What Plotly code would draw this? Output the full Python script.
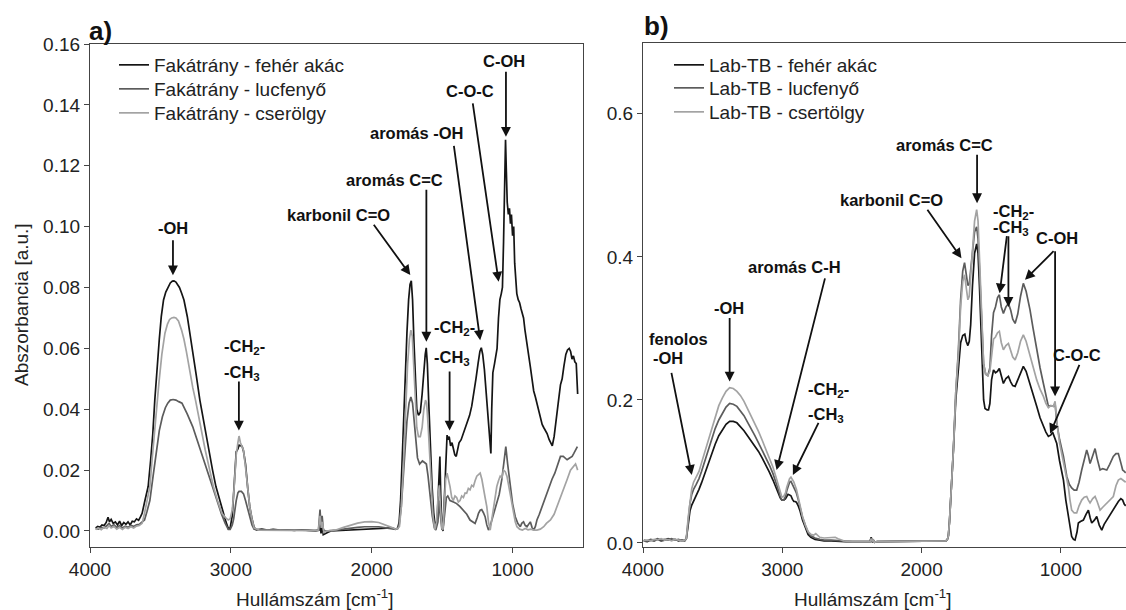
import plotly.graph_objects as go

# ---------------- data (wavenumber cm-1, absorbance) ----------------
a_akac = [(3960,0.0010),(3945,0.0015),(3930,0.0012),(3915,0.0020),(3900,0.0018),(3885,0.0028),(3872,0.0045),(3862,0.0030),(3850,0.0038),(3835,0.0025),(3820,0.0030),(3805,0.0020),(3790,0.0032),(3775,0.0018),(3760,0.0028),(3745,0.0022),(3730,0.0030),(3715,0.0020),(3700,0.0032),(3685,0.0030),(3670,0.0040),(3655,0.0035),(3640,0.0048),(3630,0.0058),(3610,0.0100),(3587,0.0146),(3570,0.0230),(3554,0.0320),(3540,0.0430),(3524,0.0540),(3508,0.0630),(3494,0.0704),(3478,0.0759),(3462,0.0785),(3447,0.0800),(3430,0.0815),(3415,0.0821),(3404,0.0822),(3390,0.0818),(3378,0.0808),(3365,0.0800),(3350,0.0782),(3333,0.0759),(3309,0.0704),(3290,0.0650),(3271,0.0590),(3245,0.0510),(3220,0.0430),(3190,0.0350),(3157,0.0266),(3130,0.0200),(3106,0.0146),(3080,0.0100),(3056,0.0060),(3035,0.0030),(3018,0.0008),(3005,0.0010),(2990,0.0050),(2980,0.0120),(2970,0.0200),(2962,0.0260),(2950,0.0270),(2942,0.0282),(2930,0.0280),(2920,0.0278),(2910,0.0262),(2896,0.0220),(2880,0.0140),(2866,0.0080),(2850,0.0040),(2835,0.0012),(2820,0.0004),(2780,0.0006),(2740,0.0003),(2700,0.0005),(2650,0.0003),(2600,0.0004),(2550,0.0002),(2500,0.0004),(2450,0.0002),(2400,0.0000),(2375,0.0002),(2366,0.0030),(2360,-0.0008),(2352,0.0018),(2344,-0.0012),(2330,-0.0008),(2310,-0.0004),(2290,0.0000),(2250,0.0001),(2200,0.0002),(2150,0.0004),(2100,0.0005),(2050,0.0007),(2000,0.0008),(1950,0.0010),(1900,0.0011),(1860,0.0010),(1830,0.0006),(1815,0.0010),(1805,0.0030),(1795,0.0100),(1780,0.0280),(1765,0.0480),(1750,0.0650),(1738,0.0760),(1728,0.0810),(1719,0.0822),(1710,0.0760),(1700,0.0620),(1690,0.0480),(1680,0.0400),(1668,0.0380),(1655,0.0390),(1642,0.0450),(1630,0.0530),(1620,0.0580),(1613,0.0602),(1605,0.0550),(1595,0.0420),(1585,0.0280),(1572,0.0150),(1560,0.0060),(1548,0.0010),(1535,0.0040),(1525,0.0150),(1516,0.0245),(1510,0.0120),(1502,0.0020),(1494,0.0000),(1485,0.0100),(1475,0.0250),(1465,0.0315),(1458,0.0300),(1450,0.0310),(1440,0.0280),(1430,0.0290),(1420,0.0270),(1410,0.0250),(1400,0.0245),(1390,0.0270),(1380,0.0290),(1365,0.0300),(1350,0.0320),(1335,0.0340),(1320,0.0360),(1305,0.0380),(1290,0.0410),(1275,0.0450),(1260,0.0500),(1245,0.0550),(1232,0.0590),(1222,0.0602),(1212,0.0580),(1200,0.0530),(1190,0.0470),(1180,0.0400),(1170,0.0330),(1160,0.0270),(1154,0.0255),(1148,0.0400),(1140,0.0520),(1128,0.0550),(1118,0.0580),(1110,0.0600),(1100,0.0700),(1090,0.0760),(1080,0.0780),(1072,0.0800),(1064,0.0950),(1057,0.1150),(1050,0.1285),(1044,0.1180),(1038,0.1080),(1030,0.1040),(1022,0.1060),(1015,0.1010),(1008,0.1040),(1000,0.0970),(992,0.1000),(985,0.0880),(978,0.0820),(970,0.0780),(960,0.0760),(950,0.0750),(940,0.0730),(930,0.0710),(922,0.0700),(912,0.0660),(905,0.0640),(898,0.0620),(886,0.0580),(874,0.0540),(862,0.0500),(850,0.0460),(838,0.0440),(827,0.0420),(815,0.0390),(803,0.0370),(790,0.0350),(779,0.0340),(767,0.0330),(755,0.0320),(740,0.0300),(728,0.0290),(718,0.0280),(705,0.0310),(690,0.0360),(676,0.0420),(660,0.0480),(648,0.0500),(636,0.0540),(622,0.0580),(610,0.0595),(598,0.0600),(588,0.0590),(578,0.0565),(568,0.0575),(558,0.0556),(548,0.0550),(543,0.0500),(538,0.0450)]

a_lucf = [(3960,0.0008),(3940,0.0006),(3920,0.0012),(3900,0.0010),(3880,0.0018),(3865,0.0025),(3850,0.0015),(3830,0.0020),(3810,0.0012),(3790,0.0018),(3770,0.0010),(3750,0.0016),(3730,0.0012),(3710,0.0018),(3690,0.0015),(3670,0.0020),(3650,0.0022),(3630,0.0030),(3613,0.0036),(3595,0.0065),(3575,0.0100),(3552,0.0180),(3529,0.0266),(3508,0.0330),(3486,0.0375),(3465,0.0405),(3448,0.0420),(3430,0.0430),(3410,0.0432),(3390,0.0430),(3370,0.0425),(3347,0.0420),(3310,0.0385),(3271,0.0343),(3240,0.0300),(3208,0.0255),(3170,0.0200),(3132,0.0146),(3100,0.0100),(3068,0.0058),(3040,0.0025),(3018,0.0005),(3005,0.0005),(2990,0.0020),(2980,0.0040),(2970,0.0075),(2962,0.0100),(2950,0.0125),(2942,0.0130),(2925,0.0130),(2910,0.0122),(2896,0.0100),(2880,0.0070),(2866,0.0040),(2850,0.0020),(2835,0.0006),(2800,0.0004),(2700,0.0003),(2600,0.0004),(2500,0.0003),(2400,0.0002),(2378,0.0004),(2367,0.0070),(2360,0.0020),(2352,0.0050),(2343,0.0004),(2330,0.0000),(2300,0.0002),(2250,0.0003),(2200,0.0006),(2150,0.0010),(2100,0.0012),(2050,0.0014),(2000,0.0015),(1950,0.0014),(1900,0.0010),(1860,0.0008),(1830,0.0005),(1815,0.0008),(1805,0.0020),(1790,0.0080),(1770,0.0220),(1750,0.0360),(1735,0.0420),(1722,0.0440),(1710,0.0420),(1700,0.0360),(1690,0.0300),(1675,0.0240),(1660,0.0220),(1640,0.0230),(1625,0.0225),(1612,0.0220),(1600,0.0180),(1585,0.0110),(1570,0.0050),(1555,0.0010),(1545,0.0003),(1530,0.0030),(1520,0.0100),(1512,0.0050),(1502,0.0006),(1494,0.0003),(1482,0.0060),(1470,0.0110),(1460,0.0115),(1444,0.0100),(1420,0.0095),(1397,0.0090),(1373,0.0080),(1349,0.0069),(1325,0.0055),(1302,0.0036),(1285,0.0030),(1266,0.0025),(1250,0.0045),(1242,0.0058),(1230,0.0068),(1219,0.0070),(1207,0.0060),(1195,0.0047),(1183,0.0020),(1171,0.0003),(1160,0.0015),(1147,0.0036),(1130,0.0060),(1112,0.0090),(1095,0.0120),(1076,0.0170),(1062,0.0220),(1048,0.0277),(1035,0.0220),(1017,0.0146),(1000,0.0090),(981,0.0047),(963,0.0025),(945,0.0014),(935,0.0025),(922,0.0030),(910,0.0018),(898,0.0014),(886,0.0022),(874,0.0030),(862,0.0012),(850,0.0003),(838,0.0015),(827,0.0036),(810,0.0055),(791,0.0080),(772,0.0100),(755,0.0124),(737,0.0150),(720,0.0170),(700,0.0190),(684,0.0210),(672,0.0230),(660,0.0245),(640,0.0245),(625,0.0238),(613,0.0234),(595,0.0240),(577,0.0245),(565,0.0255),(553,0.0266),(545,0.0275),(540,0.0277)]

a_cser = [(3960,0.0005),(3940,0.0010),(3920,0.0004),(3900,0.0012),(3880,0.0008),(3865,0.0018),(3850,0.0010),(3830,0.0015),(3810,0.0006),(3790,0.0012),(3770,0.0005),(3750,0.0012),(3730,0.0008),(3710,0.0014),(3690,0.0010),(3670,0.0016),(3650,0.0018),(3630,0.0025),(3613,0.0058),(3595,0.0100),(3575,0.0146),(3560,0.0230),(3544,0.0320),(3528,0.0400),(3511,0.0485),(3490,0.0580),(3468,0.0650),(3450,0.0680),(3435,0.0695),(3420,0.0700),(3404,0.0702),(3390,0.0700),(3372,0.0690),(3350,0.0660),(3333,0.0630),(3316,0.0590),(3290,0.0520),(3270,0.0470),(3251,0.0430),(3220,0.0350),(3182,0.0266),(3150,0.0200),(3124,0.0146),(3095,0.0100),(3063,0.0058),(3040,0.0045),(3018,0.0036),(3005,0.0040),(2990,0.0070),(2980,0.0120),(2970,0.0190),(2962,0.0250),(2950,0.0290),(2942,0.0312),(2932,0.0290),(2920,0.0275),(2910,0.0265),(2896,0.0210),(2880,0.0140),(2866,0.0080),(2850,0.0040),(2835,0.0010),(2800,0.0003),(2700,0.0002),(2600,0.0003),(2500,0.0002),(2400,0.0001),(2378,0.0003),(2367,0.0050),(2358,0.0010),(2350,0.0030),(2340,-0.0005),(2320,0.0000),(2280,0.0002),(2250,0.0004),(2200,0.0012),(2150,0.0020),(2100,0.0026),(2050,0.0030),(2000,0.0031),(1950,0.0028),(1900,0.0020),(1860,0.0012),(1830,0.0006),(1815,0.0008),(1803,0.0015),(1790,0.0080),(1775,0.0220),(1760,0.0400),(1745,0.0550),(1732,0.0630),(1722,0.0660),(1712,0.0640),(1702,0.0540),(1692,0.0420),(1680,0.0340),(1668,0.0310),(1655,0.0310),(1642,0.0340),(1630,0.0400),(1618,0.0430),(1610,0.0420),(1600,0.0350),(1590,0.0250),(1578,0.0130),(1565,0.0050),(1552,0.0005),(1540,0.0030),(1528,0.0120),(1520,0.0150),(1512,0.0080),(1502,0.0010),(1494,0.0005),(1485,0.0080),(1475,0.0170),(1465,0.0190),(1455,0.0170),(1444,0.0146),(1432,0.0110),(1421,0.0100),(1409,0.0115),(1397,0.0110),(1385,0.0095),(1373,0.0100),(1361,0.0115),(1349,0.0110),(1337,0.0125),(1326,0.0124),(1314,0.0140),(1302,0.0135),(1290,0.0150),(1278,0.0146),(1266,0.0165),(1254,0.0180),(1242,0.0185),(1230,0.0190),(1218,0.0170),(1207,0.0146),(1195,0.0110),(1183,0.0080),(1171,0.0030),(1159,0.0003),(1147,0.0040),(1135,0.0080),(1124,0.0120),(1112,0.0146),(1100,0.0165),(1088,0.0180),(1076,0.0175),(1064,0.0200),(1052,0.0195),(1040,0.0180),(1028,0.0150),(1017,0.0120),(1005,0.0085),(993,0.0058),(981,0.0030),(969,0.0014),(950,0.0006),(930,0.0003),(910,0.0008),(890,0.0004),(870,0.0006),(850,0.0003),(827,0.0003),(803,0.0006),(779,0.0014),(760,0.0025),(731,0.0036),(705,0.0055),(684,0.0080),(660,0.0110),(636,0.0135),(612,0.0170),(589,0.0200),(570,0.0210),(553,0.0220),(545,0.0210),(538,0.0200)]

b_akac = [(3995,0.003),(3970,0.002),(3945,0.004),(3920,0.003),(3895,0.005),(3870,0.003),(3845,0.004),(3820,0.006),(3795,0.004),(3770,0.005),(3745,0.003),(3720,0.004),(3700,0.003),(3689,0.006),(3676,0.025),(3663,0.045),(3650,0.053),(3637,0.058),(3618,0.066),(3598,0.075),(3580,0.084),(3560,0.095),(3535,0.110),(3508,0.125),(3482,0.138),(3456,0.150),(3430,0.159),(3404,0.166),(3378,0.170),(3352,0.170),(3326,0.168),(3300,0.163),(3275,0.157),(3250,0.150),(3223,0.143),(3197,0.136),(3171,0.128),(3145,0.119),(3119,0.110),(3093,0.099),(3067,0.088),(3045,0.077),(3028,0.068),(3015,0.063),(3003,0.060),(2990,0.060),(2977,0.062),(2968,0.066),(2959,0.068),(2948,0.067),(2938,0.066),(2927,0.061),(2917,0.058),(2908,0.058),(2899,0.057),(2886,0.052),(2873,0.045),(2855,0.032),(2834,0.020),(2815,0.012),(2795,0.008),(2765,0.005),(2731,0.004),(2700,0.003),(2650,0.003),(2600,0.002),(2550,0.002),(2500,0.002),(2450,0.002),(2400,0.002),(2370,0.002),(2362,0.008),(2355,0.001),(2348,0.004),(2338,0.001),(2320,0.002),(2280,0.002),(2200,0.002),(2100,0.002),(2000,0.002),(1900,0.002),(1850,0.003),(1825,0.003),(1815,0.005),(1808,0.010),(1800,0.030),(1790,0.060),(1780,0.100),(1772,0.130),(1755,0.200),(1736,0.250),(1720,0.280),(1705,0.290),(1690,0.292),(1680,0.282),(1668,0.276),(1658,0.282),(1648,0.305),(1635,0.360),(1620,0.405),(1605,0.418),(1595,0.405),(1585,0.360),(1575,0.300),(1565,0.240),(1555,0.200),(1545,0.188),(1530,0.186),(1520,0.186),(1510,0.195),(1498,0.228),(1484,0.242),(1470,0.238),(1456,0.240),(1442,0.244),(1428,0.232),(1413,0.223),(1395,0.230),(1377,0.233),(1360,0.225),(1346,0.220),(1329,0.219),(1310,0.228),(1290,0.240),(1270,0.247),(1250,0.240),(1222,0.223),(1200,0.208),(1174,0.191),(1150,0.175),(1126,0.163),(1108,0.155),(1090,0.149),(1072,0.151),(1060,0.155),(1045,0.148),(1030,0.139),(1010,0.115),(995,0.100),(982,0.088),(965,0.060),(946,0.037),(935,0.020),(923,0.009),(910,0.005),(899,0.004),(885,0.015),(875,0.028),(860,0.030),(839,0.032),(820,0.040),(803,0.046),(790,0.035),(779,0.028),(760,0.032),(743,0.037),(725,0.025),(707,0.018),(690,0.026),(671,0.032),(650,0.038),(624,0.046),(605,0.053),(588,0.058),(570,0.062),(557,0.060),(545,0.054),(535,0.052)]

b_lucf = [(3995,0.004),(3970,0.003),(3945,0.005),(3920,0.004),(3895,0.006),(3870,0.004),(3845,0.005),(3820,0.004),(3795,0.006),(3770,0.004),(3745,0.005),(3720,0.003),(3700,0.004),(3689,0.006),(3676,0.030),(3663,0.055),(3650,0.068),(3637,0.075),(3618,0.082),(3598,0.090),(3580,0.100),(3560,0.112),(3535,0.128),(3508,0.145),(3482,0.160),(3456,0.172),(3430,0.182),(3404,0.190),(3378,0.195),(3352,0.194),(3326,0.191),(3300,0.185),(3275,0.178),(3250,0.169),(3223,0.160),(3197,0.150),(3171,0.140),(3145,0.130),(3119,0.120),(3093,0.109),(3067,0.097),(3045,0.085),(3028,0.074),(3015,0.065),(3003,0.060),(2990,0.060),(2977,0.065),(2968,0.073),(2959,0.080),(2948,0.085),(2938,0.086),(2927,0.082),(2917,0.078),(2908,0.074),(2899,0.070),(2886,0.061),(2873,0.050),(2855,0.036),(2834,0.024),(2815,0.015),(2795,0.010),(2765,0.007),(2731,0.005),(2700,0.004),(2650,0.004),(2600,0.003),(2550,0.003),(2500,0.002),(2450,0.002),(2400,0.002),(2370,0.002),(2362,0.007),(2355,0.002),(2348,0.005),(2338,0.001),(2320,0.002),(2280,0.002),(2200,0.002),(2100,0.002),(2000,0.002),(1900,0.002),(1850,0.002),(1825,0.003),(1815,0.005),(1808,0.010),(1800,0.030),(1790,0.060),(1780,0.100),(1772,0.130),(1755,0.210),(1736,0.270),(1720,0.340),(1705,0.380),(1692,0.392),(1680,0.375),(1668,0.360),(1658,0.362),(1648,0.380),(1635,0.405),(1620,0.435),(1605,0.442),(1595,0.425),(1585,0.385),(1575,0.330),(1565,0.280),(1555,0.250),(1540,0.236),(1525,0.234),(1510,0.245),(1498,0.290),(1484,0.322),(1470,0.330),(1455,0.343),(1442,0.347),(1428,0.330),(1413,0.321),(1395,0.330),(1377,0.335),(1360,0.325),(1346,0.313),(1329,0.307),(1310,0.320),(1290,0.345),(1270,0.363),(1250,0.352),(1222,0.326),(1200,0.300),(1174,0.270),(1150,0.245),(1126,0.223),(1108,0.205),(1090,0.191),(1072,0.192),(1054,0.191),(1042,0.195),(1030,0.168),(1010,0.145),(982,0.121),(958,0.093),(940,0.082),(923,0.077),(905,0.074),(887,0.074),(870,0.085),(851,0.102),(833,0.118),(815,0.130),(803,0.122),(791,0.111),(772,0.122),(755,0.132),(740,0.118),(719,0.102),(700,0.104),(671,0.102),(650,0.110),(624,0.121),(605,0.125),(588,0.125),(570,0.112),(557,0.102),(545,0.100),(535,0.098)]

b_cser = [(3995,0.003),(3970,0.004),(3945,0.003),(3920,0.005),(3895,0.004),(3870,0.006),(3845,0.004),(3820,0.005),(3795,0.003),(3770,0.005),(3745,0.004),(3720,0.003),(3700,0.004),(3689,0.006),(3676,0.035),(3663,0.060),(3650,0.076),(3637,0.085),(3618,0.092),(3598,0.100),(3580,0.112),(3560,0.125),(3535,0.142),(3508,0.160),(3482,0.177),(3456,0.192),(3430,0.203),(3404,0.212),(3378,0.217),(3352,0.216),(3326,0.212),(3300,0.206),(3275,0.198),(3250,0.188),(3223,0.178),(3197,0.167),(3171,0.156),(3145,0.144),(3119,0.132),(3093,0.119),(3067,0.106),(3045,0.092),(3028,0.080),(3015,0.070),(3003,0.064),(2990,0.065),(2977,0.070),(2968,0.078),(2959,0.085),(2948,0.090),(2938,0.092),(2927,0.089),(2917,0.085),(2908,0.080),(2899,0.075),(2886,0.064),(2873,0.052),(2855,0.037),(2834,0.025),(2815,0.016),(2795,0.012),(2775,0.011),(2760,0.013),(2745,0.010),(2731,0.008),(2700,0.007),(2650,0.007),(2620,0.008),(2600,0.006),(2560,0.003),(2500,0.002),(2450,0.002),(2400,0.002),(2370,0.002),(2362,0.006),(2355,0.002),(2348,0.004),(2338,0.001),(2320,0.002),(2280,0.002),(2200,0.002),(2100,0.002),(2000,0.002),(1900,0.002),(1850,0.002),(1825,0.003),(1815,0.005),(1808,0.010),(1800,0.030),(1790,0.060),(1780,0.100),(1772,0.130),(1755,0.210),(1736,0.265),(1720,0.330),(1705,0.365),(1692,0.375),(1680,0.355),(1668,0.340),(1658,0.345),(1648,0.370),(1635,0.410),(1620,0.450),(1605,0.466),(1595,0.450),(1585,0.400),(1575,0.340),(1565,0.285),(1555,0.250),(1540,0.236),(1525,0.234),(1510,0.240),(1498,0.265),(1484,0.285),(1470,0.288),(1455,0.294),(1442,0.296),(1428,0.280),(1413,0.270),(1395,0.276),(1377,0.279),(1360,0.270),(1346,0.260),(1329,0.256),(1310,0.266),(1290,0.282),(1270,0.291),(1250,0.282),(1222,0.261),(1200,0.245),(1174,0.228),(1150,0.215),(1126,0.205),(1108,0.195),(1090,0.189),(1072,0.192),(1054,0.191),(1042,0.198),(1030,0.170),(1010,0.140),(995,0.125),(982,0.111),(958,0.090),(947,0.079),(935,0.060),(923,0.046),(905,0.042),(887,0.042),(870,0.052),(851,0.060),(833,0.064),(815,0.065),(803,0.060),(791,0.056),(772,0.062),(755,0.065),(740,0.058),(719,0.046),(700,0.050),(671,0.056),(650,0.060),(624,0.065),(605,0.080),(588,0.088),(570,0.090),(557,0.088),(545,0.086),(535,0.085)]

names_a = ["Fakátrány - fehér akác", "Fakátrány - lucfenyő", "Fakátrány - cserölgy"]
names_b = ["Lab-TB - fehér akác", "Lab-TB - lucfenyő", "Lab-TB - csertölgy"]
yticks_a = [0.00, 0.02, 0.04, 0.06, 0.08, 0.10, 0.12, 0.14, 0.16]
yticks_b = [0.0, 0.2, 0.4, 0.6]
xticks = [4000, 3000, 2000, 1000]

# ---------------- styles ----------------
COLORS = ["#151515", "#5c5c5c", "#a3a3a3"]
FONT = "Liberation Sans, Arial, sans-serif"
W, H = 1126, 610

def px(x):
    return x / W

def py(y):
    return 1 - y / H

fig = go.Figure()

legend_ids = ["legend", "legend2", "legend3", "legend4", "legend5", "legend6"]
legend_pos = [(114, 65), (114, 89), (114, 113), (669, 65), (669, 88), (669, 112)]

k = 0
for series, name, col in zip([a_akac, a_lucf, a_cser], names_a, COLORS):
    xs, ys = zip(*series)
    fig.add_trace(go.Scatter(x=list(xs), y=list(ys), mode="lines", name=name,
                             line=dict(color=col, width=1.7), xaxis="x", yaxis="y",
                             legend=legend_ids[k]))
    k += 1
for series, name, col in zip([b_akac, b_lucf, b_cser], names_b, COLORS):
    xs, ys = zip(*series)
    fig.add_trace(go.Scatter(x=list(xs), y=list(ys), mode="lines", name=name,
                             line=dict(color=col, width=1.7), xaxis="x2", yaxis="y2",
                             legend=legend_ids[k]))
    k += 1

axis_common = dict(showgrid=False, zeroline=False, showline=True, linecolor="#444",
                   linewidth=1.2, ticks="outside", ticklen=5, tickwidth=1.2,
                   tickcolor="#444", automargin=False,
                   tickfont=dict(family=FONT, size=19, color="#222"))

layout = dict(
    width=W, height=H, margin=dict(l=0, r=0, t=0, b=0, autoexpand=False),
    paper_bgcolor="white", plot_bgcolor="white",
    xaxis=dict(domain=[px(90), px(583)], range=[4000, 500], anchor="y",
               tickvals=xticks, mirror=True, **axis_common),
    yaxis=dict(domain=[py(547), py(44)], range=[-0.00526, 0.16], anchor="x",
               tickvals=yticks_a, tickformat=".2f", mirror=True, **axis_common),
    xaxis2=dict(domain=[px(643), 1.0], range=[4000, 533], anchor="y2",
                tickvals=xticks, mirror=True, **axis_common),
    yaxis2=dict(domain=[py(547), py(43)], range=[-0.0056, 0.699], anchor="x2",
                tickvals=yticks_b, tickformat=".1f", **axis_common),
    showlegend=True,
)
for lid, (lx, ly) in zip(legend_ids, legend_pos):
    layout[lid] = dict(x=px(lx), y=py(ly), xanchor="left", yanchor="middle",
                       font=dict(family=FONT, size=19, color="#222"),
                       bgcolor="rgba(0,0,0,0)", borderwidth=0, itemwidth=30)
fig.update_layout(**layout)

ann = []
LBL = dict(family=FONT, size=16.5, color="#111")

def text(x, y, t, xa="x", ya="y", anchor="center"):
    ann.append(dict(x=x, y=y, xref=xa, yref=ya, text="<b>" + t + "</b>", showarrow=False,
                    xanchor=anchor, yanchor="middle", font=LBL))

def arrow(x0, y0, x1, y1, xa="x", ya="y"):
    ann.append(dict(x=x1, y=y1, ax=x0, ay=y0, xref=xa, yref=ya, axref=xa, ayref=ya,
                    text="", showarrow=True, arrowhead=2, arrowsize=1.1, arrowwidth=1.8,
                    arrowcolor="#111", standoff=0, startstandoff=0))

# panel a
text(3411, 0.0995, "-OH"); arrow(3411, 0.096, 3411, 0.084)
text(3063, 0.0605, "-CH<sub>2</sub>-", anchor="left")
text(3063, 0.0519, "-CH<sub>3</sub>", anchor="left")
arrow(2943, 0.0496, 2943, 0.033)
text(2234, 0.1038, "karbonil C=O"); arrow(1993, 0.1011, 1726, 0.0841)
text(1840, 0.1153, "aromás C=C"); arrow(1612, 0.1126, 1612, 0.0622)
text(1681, 0.1307, "aromás -OH"); arrow(1418, 0.127, 1230, 0.0627)
text(1300, 0.1447, "C-O-C"); arrow(1284, 0.141, 1099, 0.0819)
text(1060, 0.1545, "C-OH"); arrow(1047, 0.1514, 1047, 0.1295)
text(1574, 0.0666, "-CH<sub>2</sub>-", anchor="left")
text(1574, 0.0567, "-CH<sub>3</sub>", anchor="left")
arrow(1447, 0.0529, 1447, 0.033)

# panel b
X2, Y2 = "x2", "y2"
text(1836, 0.557, "aromás C=C", X2, Y2); arrow(1602, 0.545, 1602, 0.475, X2, Y2)
text(2217, 0.480, "karbonil C=O", X2, Y2); arrow(1966, 0.468, 1714, 0.398, X2, Y2)
text(1499, 0.463, "-CH<sub>2</sub>-", X2, Y2, anchor="left")
text(1499, 0.440, "-CH<sub>3</sub>", X2, Y2, anchor="left")
arrow(1387, 0.431, 1440, 0.349, X2, Y2); arrow(1377, 0.431, 1377, 0.330, X2, Y2)
text(1030, 0.426, "C-OH", X2, Y2)
arrow(1042, 0.410, 1258, 0.368, X2, Y2); arrow(1042, 0.410, 1042, 0.205, X2, Y2)
text(887, 0.263, "C-O-C", X2, Y2); arrow(863, 0.251, 1078, 0.153, X2, Y2)
text(2911, 0.386, "aromás C-H", X2, Y2); arrow(2691, 0.372, 3041, 0.102, X2, Y2)
text(3383, 0.328, "-OH", X2, Y2); arrow(3378, 0.3165, 3378, 0.2256, X2, Y2)
text(3746, 0.285, "fenolos", X2, Y2); text(3818, 0.258, "-OH", X2, Y2)
arrow(3798, 0.240, 3650, 0.095, X2, Y2)
text(2833, 0.214, "-CH<sub>2</sub>-", X2, Y2, anchor="left")
text(2833, 0.179, "-CH<sub>3</sub>", X2, Y2, anchor="left")
arrow(2735, 0.170, 2924, 0.095, X2, Y2)

# panel labels and axis titles
ann.append(dict(x=px(87), y=py(31), xref="paper", yref="paper", text="<b>a)</b>",
                showarrow=False, xanchor="left", yanchor="middle",
                font=dict(family=FONT, size=26, color="#111")))
ann.append(dict(x=px(642), y=py(26), xref="paper", yref="paper", text="<b>b)</b>",
                showarrow=False, xanchor="left", yanchor="middle",
                font=dict(family=FONT, size=26, color="#111")))
TT = dict(family=FONT, size=19, color="#222")
ann.append(dict(x=px(315), y=py(598), xref="paper", yref="paper",
                text="Hullámszám [cm<sup>-1</sup>]", showarrow=False,
                xanchor="center", yanchor="middle", font=TT))
ann.append(dict(x=px(873), y=py(598), xref="paper", yref="paper",
                text="Hullámszám [cm<sup>-1</sup>]", showarrow=False,
                xanchor="center", yanchor="middle", font=TT))
ann.append(dict(x=px(21), y=py(305), xref="paper", yref="paper",
                text="Abszorbancia [a.u.]", showarrow=False, textangle=-90,
                xanchor="center", yanchor="middle", font=TT))

fig.update_layout(annotations=ann)
fig.write_html("out.html")
